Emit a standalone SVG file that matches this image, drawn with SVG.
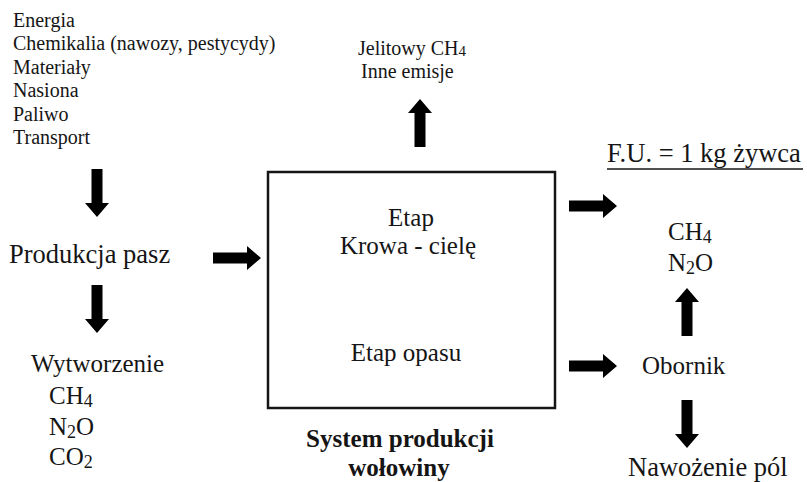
<svg xmlns="http://www.w3.org/2000/svg" width="807" height="482" viewBox="0 0 807 482">
<style>
text{fill:#151515}
.s20{font-size:20px}
.s25{font-size:25px}
.s26{font-size:26.5px}
.b{font-weight:bold;font-size:25px}
.box{fill:none;stroke:#151515;stroke-width:2.5}
.arr{fill:#000}
</style>
<defs>
<path id="arrow" class="arr" d="M0,-5.5 H34 V-12 L48,0 L34,12 V5.5 H0 Z"/>
</defs>
<rect width="807" height="482" fill="#fff"/>
<g font-family="'Liberation Serif', 'Times New Roman', Tinos, 'DejaVu Serif', serif">
<g id="inputs">
<text class="s20" x="13" y="27">Energia</text>
<text class="s20" x="13" y="50">Chemikalia (nawozy, pestycydy)</text>
<text class="s20" x="13" y="74">Materiały</text>
<text class="s20" x="13" y="97">Nasiona</text>
<text class="s20" x="13" y="121">Paliwo</text>
<text class="s20" x="13" y="144">Transport</text>
</g>
<g id="emisje-jelitowe">
<text class="s20" x="358" y="55">Jelitowy CH<tspan font-size="15" dy="1">4</tspan></text>
<text class="s20" x="361" y="78">Inne emisje</text>
</g>
<g id="produkcja-pasz">
<text class="s26" x="9" y="263">Produkcja pasz</text>
</g>
<g id="wytworzenie">
<text class="s25" x="31" y="372">Wytworzenie</text>
<text class="s25" x="49" y="404">CH<tspan font-size="18" dy="3">4</tspan></text>
<text class="s25" x="49" y="435">N<tspan font-size="18" dy="3">2</tspan><tspan dy="-3">O</tspan></text>
<text class="s25" x="49" y="465">CO<tspan font-size="18" dy="3">2</tspan></text>
</g>
<g id="system">
<rect class="box" x="268" y="172" width="287" height="236"/>
<text class="s25" x="411" y="226" text-anchor="middle">Etap</text>
<text class="s25" x="408" y="254" text-anchor="middle">Krowa - cielę</text>
<text class="s25" x="406" y="361" text-anchor="middle">Etap opasu</text>
<text class="b" x="400" y="447" text-anchor="middle">System produkcji</text>
<text class="b" x="399" y="476" text-anchor="middle">wołowiny</text>
</g>
<g id="jednostka">
<text class="s26" x="607" y="162">F.U. = 1 kg żywca</text>
<line x1="607" y1="169" x2="803" y2="169" stroke="#151515" stroke-width="1.5"/>
</g>
<g id="emisje-obornik">
<text class="s25" x="668" y="240">CH<tspan font-size="18" dy="3">4</tspan></text>
<text class="s25" x="668" y="271">N<tspan font-size="18" dy="3">2</tspan><tspan dy="-3">O</tspan></text>
</g>
<g id="obornik">
<text class="s25" x="642" y="374">Obornik</text>
</g>
<g id="nawozenie">
<text class="s26" x="628" y="476">Nawożenie pól</text>
</g>
</g>
<g id="connectors">
<use href="#arrow" transform="translate(97,169) rotate(90)"/>
<use href="#arrow" transform="translate(97,285) rotate(90)"/>
<use href="#arrow" transform="translate(213,258)"/>
<use href="#arrow" transform="translate(420,147) rotate(-90)"/>
<use href="#arrow" transform="translate(569,206)"/>
<use href="#arrow" transform="translate(569,366)"/>
<use href="#arrow" transform="translate(687,336) rotate(-90)"/>
<use href="#arrow" transform="translate(687,400) rotate(90)"/>
</g>
</svg>
